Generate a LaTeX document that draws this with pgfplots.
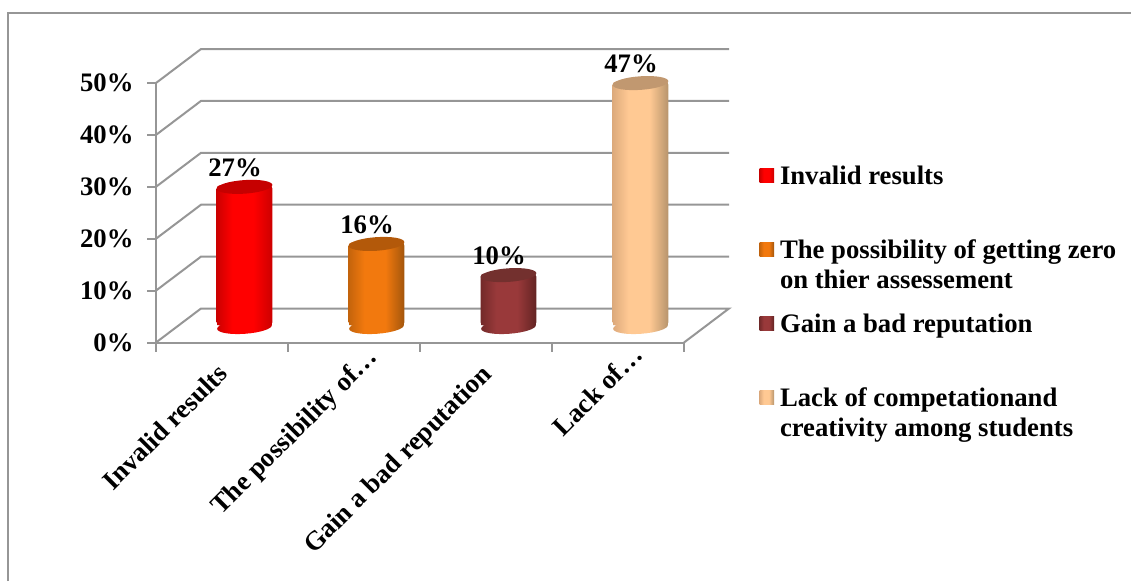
\documentclass[border=0pt]{standalone}
\usepackage{pgfplots}
\pgfplotsset{compat=1.18}
\usepackage{fontspec}
\setmainfont{Liberation Serif}
\definecolor{wallgray}{HTML}{969696}
\definecolor{redC}{HTML}{FF0000}\definecolor{redE}{HTML}{CC0000}\definecolor{redT}{HTML}{C60000}
\definecolor{oraC}{HTML}{F2790E}\definecolor{oraL}{HTML}{C4640C}\definecolor{oraR}{HTML}{A3560C}\definecolor{oraT}{HTML}{B3590A}
\definecolor{broC}{HTML}{99393A}\definecolor{broL}{HTML}{732A2A}\definecolor{broR}{HTML}{632423}\definecolor{broT}{HTML}{73302E}
\definecolor{peaC}{HTML}{FFC993}\definecolor{peaL}{HTML}{DDAA7C}\definecolor{peaR}{HTML}{B7946C}\definecolor{peaT}{HTML}{C19870}
\definecolor{keyR}{HTML}{FF0000}\definecolor{keyO}{HTML}{E46C0A}\definecolor{keyB}{HTML}{953735}\definecolor{keyP}{HTML}{FAC090}

% horizontal gradients of the cylinder bodies
\newcommand\cylshading[4]{\pgfdeclarehorizontalshading{#1}{100bp}{%
  color(0bp)=(#2); color(25bp)=(#2); color(39bp)=(#3); color(58bp)=(#3); color(75bp)=(#4); color(100bp)=(#4)}}
\cylshading{cylred}{redE}{redC}{redE}
\cylshading{cylora}{oraL}{oraC}{oraR}
\cylshading{cylbro}{broL}{broC}{broR}
\cylshading{cylpea}{peaL}{peaC}{peaR}

% cylinder ends: tilted ellipses, shaded at the base (with a collar that
% closes the gap to the body) and flat on top
\newcommand\cylbase[2]{\pgfdeclareplotmark{#1}{%
  \pgfpathrectanglecorners{\pgfqpoint{-27.4pt}{0.5pt}}{\pgfqpoint{27.4pt}{5pt}}%
  \pgftransformshift{\pgfqpoint{0pt}{-1.5pt}}\pgftransformrotate{4}%
  \pgfpathellipse{\pgfpointorigin}{\pgfqpoint{27.4pt}{0pt}}{\pgfqpoint{0pt}{6.8pt}}%
  \pgfshadepath{#2}{0}\pgfusepath{discard}}}
\newcommand\cyltop[2]{\pgfdeclareplotmark{#1}{%
  \pgftransformshift{\pgfqpoint{0pt}{-1.5pt}}\pgftransformrotate{4}\pgfsetfillcolor{#2}%
  \pgfpathellipse{\pgfpointorigin}{\pgfqpoint{27.9pt}{0pt}}{\pgfqpoint{0pt}{6.8pt}}%
  \pgfusepath{fill}}}
\cylbase{baseR}{cylred}\cylbase{baseO}{cylora}\cylbase{baseB}{cylbro}\cylbase{baseP}{cylpea}
\cyltop{topR}{redT}\cyltop{topO}{oraT}\cyltop{topB}{broT}\cyltop{topP}{peaT}

\newcommand\chartfont{\bfseries\fontsize{26.7}{30}\selectfont}
\newcommand\swatch[1]{\fill[#1, sharp corners] (0pt,-7pt) rectangle (14.5pt,7pt);}
% legend rows aligned on their first baseline
\newcommand\legendone[1]{\hbox{\rule{0pt}{20pt}#1}}
\newcommand\legendtwo[2]{\vtop{\hbox{\rule{0pt}{20pt}#1}\hbox{#2}}}

\pgfplotsset{
  cyl/.style 2 args={ybar, bar width=55.6pt, bar shift=0pt, draw=none,
    shading=#1, rounded corners=3pt, mark=#2, mark options={solid}},
  swatchimg/.style={legend image code/.code={\swatch{#1}}},
}

\begin{document}
\begin{tikzpicture}
\path[use as bounding box] (0pt,0pt) rectangle (1131pt,581pt);
\draw[wallgray, line width=2pt] (7.5pt,0pt) -- (7.5pt,568pt) -- (1131pt,568pt);

% floor, side wall and back wall with the value axis
\begin{axis}[
  at={(156pt,238.5pt)}, anchor=south west,
  scale only axis, width=528pt, height=259.5pt,
  xmin=0, xmax=4, ymin=0, ymax=50, clip=false,
  axis x line=bottom, axis y line=left,
  axis line style={wallgray, line width=2pt, -},
  tick style={wallgray, line width=2pt},
  tick align=outside, major tick length=9pt,
  xtick={0,1,2,3,4}, ytick={0,10,20,30,40,50},
  x tick label as interval,
  xticklabels={Invalid results\kern8.5pt, The possibility of…\kern-16pt, Gain a bad reputation\kern9pt, Lack of…\kern-18pt},
  xticklabel style={rotate=45, anchor=north east, font=\chartfont, text=black},
  yticklabel={\pgfmathprintnumber{\tick}\%},
  yticklabel style={font=\chartfont, text=black, xshift=-10pt},
  /pgf/number format/assume math mode=true,
]
\addplot[wallgray, line width=2pt] coordinates {(0,0) (0.341,6.55) (4.341,6.55) (4,0)};
\addplot[wallgray, line width=2pt] coordinates {(0,10) (0.341,16.55) (4.341,16.55)};
\addplot[wallgray, line width=2pt] coordinates {(0,20) (0.341,26.55) (4.341,26.55)};
\addplot[wallgray, line width=2pt] coordinates {(0,30) (0.341,36.55) (4.341,36.55)};
\addplot[wallgray, line width=2pt] coordinates {(0,40) (0.341,46.55) (4.341,46.55)};
\addplot[wallgray, line width=2pt] coordinates {(0,50) (0.341,56.55) (4.341,56.55)};
\end{axis}

% cylinders stand halfway into the depth of the floor
\begin{axis}[
  at={(178.5pt,255.5pt)}, anchor=south west,
  scale only axis, width=528pt, height=259.5pt,
  xmin=0, xmax=4, ymin=0, ymax=50, clip=false, hide axis,
  /pgf/number format/assume math mode=true,
  nodes near coords={\pgfmathprintnumber[precision=0]{\pgfplotspointmeta}\%},
  every node near coord/.style={font=\chartfont, text=black, anchor=base, xshift=-9.5pt, yshift=10.5pt, inner sep=0pt},
  legend style={at={(1.1,0.622)}, anchor=north west, draw=none, fill=none, inner sep=0pt,
    font=\chartfont, row sep=52.5pt, /tikz/column sep=6pt, nodes={inner sep=0pt}, cells={anchor=base west}},
  legend cell align=left,
]
\addplot[only marks, mark=baseR, forget plot, nodes near coords={}] coordinates {(0.5,0)};
\addplot[only marks, mark=baseO, forget plot, nodes near coords={}] coordinates {(1.5,0)};
\addplot[only marks, mark=baseB, forget plot, nodes near coords={}] coordinates {(2.5,0)};
\addplot[only marks, mark=baseP, forget plot, nodes near coords={}] coordinates {(3.5,0)};

\addplot[cyl={cylred}{topR}, swatchimg=keyR] coordinates {(0.5,27)};
\addlegendentry{\legendone{Invalid results}}
\addplot[cyl={cylora}{topO}, swatchimg=keyO] coordinates {(1.5,16)};
\addlegendentry{\legendtwo{The possibility of getting zero}{on thier assessement}}
\addplot[cyl={cylbro}{topB}, swatchimg=keyB] coordinates {(2.5,10)};
\addlegendentry{\legendone{Gain a bad reputation}}
\addplot[cyl={cylpea}{topP}, swatchimg=keyP] coordinates {(3.5,47)};
\addlegendentry{\legendtwo{Lack of competationand}{creativity among students}}
\end{axis}
\end{tikzpicture}
\end{document}
